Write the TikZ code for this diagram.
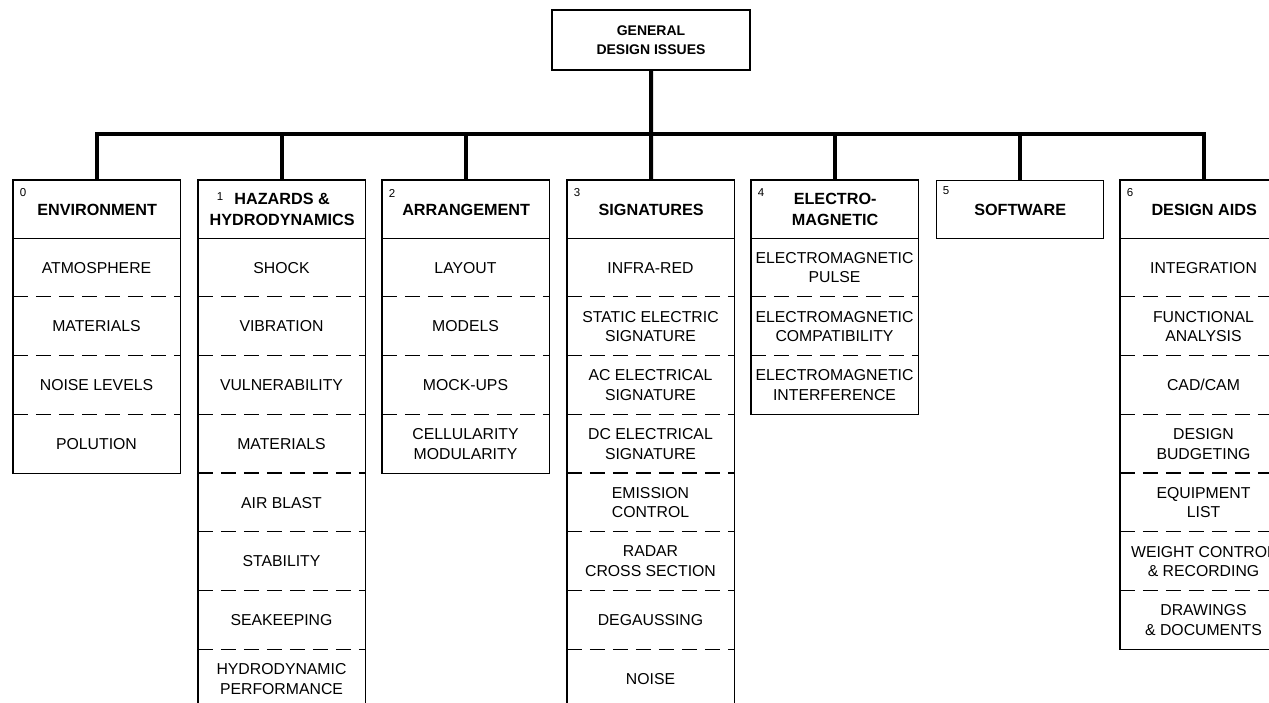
\documentclass[tikz,border=0pt]{standalone}
\usepackage{fontspec}
\setmainfont{Liberation Sans}
\usetikzlibrary{calc}

% Column helper: name, left edge, number label, header text, item count, items
\newcommand\buildcol[6]{%
  \node[headbox, anchor=north west] (#1h) at (#2,180) {#4};
  \node[numlabel] (#1n) at (#2+10,193) {#3};
  \foreach \t [count=\k] in {#6} {%
    \node[itembox, anchor=north] (#1-\k) at (#2+83.5,{238+(\k-1)*58.75}) {\t};
    \ifnum\k>1
      \draw[sepline] (#1-\k.north west) -- (#1-\k.north east);
    \fi
  }%
  \draw[frame] (#1h.north west) rectangle (#1-#5.south east);
}

\begin{document}
\begin{tikzpicture}[x=1pt,y=-1pt,
  frame/.style={line width=1.3pt},
  bus/.style={line width=4pt, line join=miter},
  sepline/.style={line width=1.3pt, dash pattern=on 15pt off 8pt},
  topbox/.style={draw, line width=1.3pt, minimum width=198pt, minimum height=60pt,
    inner sep=0pt, align=center, font=\fontsize{14}{18.5}\selectfont\bfseries},
  headbox/.style={draw, line width=1.3pt, minimum width=167pt, minimum height=58pt,
    inner sep=0pt, align=center, font=\fontsize{16.2}{20.5}\selectfont\bfseries},
  itembox/.style={minimum width=167pt, minimum height=58.75pt, inner sep=0pt,
    align=center, font=\fontsize{15.8}{19.5}\selectfont},
  numlabel/.style={inner sep=0pt, font=\fontsize{11.5}{12}\selectfont},
]
\clip (0,0) rectangle (1269,703);
\fill[white] (0,0) rectangle (1269,703);

\node[topbox] (top) at (651,40) {GENERAL\\DESIGN ISSUES};

\buildcol{c0}{13}{0}{ENVIRONMENT}{4}{ATMOSPHERE, MATERIALS, NOISE LEVELS, POLUTION}
\buildcol{c1}{198}{}{HAZARDS \&\\HYDRODYNAMICS}{8}{SHOCK, VIBRATION, VULNERABILITY,
  MATERIALS, AIR BLAST, STABILITY, SEAKEEPING, {HYDRODYNAMIC\\PERFORMANCE}}
\node[numlabel] (c1num) at (220,197) {1};
\buildcol{c2}{382}{2}{ARRANGEMENT}{4}{LAYOUT, MODELS, MOCK-UPS,
  {CELLULARITY\\MODULARITY}}
\buildcol{c3}{567}{3}{SIGNATURES}{8}{INFRA-RED, {STATIC ELECTRIC\\SIGNATURE},
  {AC ELECTRICAL\\SIGNATURE}, {DC ELECTRICAL\\SIGNATURE}, {EMISSION\\CONTROL},
  {RADAR\\CROSS SECTION}, DEGAUSSING, NOISE}
\buildcol{c4}{751}{4}{ELECTRO-\\MAGNETIC}{3}{{ELECTROMAGNETIC\\PULSE},
  {ELECTROMAGNETIC\\COMPATIBILITY}, {ELECTROMAGNETIC\\INTERFERENCE}}
\node[headbox, anchor=north west] (c5h) at (936,180) {SOFTWARE};
\node[numlabel] (c5n) at (946,191) {5};
\buildcol{c6}{1120}{6}{DESIGN AIDS}{7}{INTEGRATION, {FUNCTIONAL\\ANALYSIS},
  CAD/CAM, {DESIGN\\BUDGETING}, {EQUIPMENT\\LIST}, {WEIGHT CONTROL\\\& RECORDING},
  {DRAWINGS\\\& DOCUMENTS}}

% Tree connectors
\coordinate (bus) at (0,134);
\draw[bus] (c0h.north) -- (c0h.north |- bus) -- (c6h.north |- bus) -- (c6h.north);
\draw[bus] (top.south) -- (c3h.north);
\foreach \c in {c1h, c2h, c4h, c5h}
  \draw[bus] (\c.north) -- (\c.north |- bus);
\end{tikzpicture}
\end{document}
